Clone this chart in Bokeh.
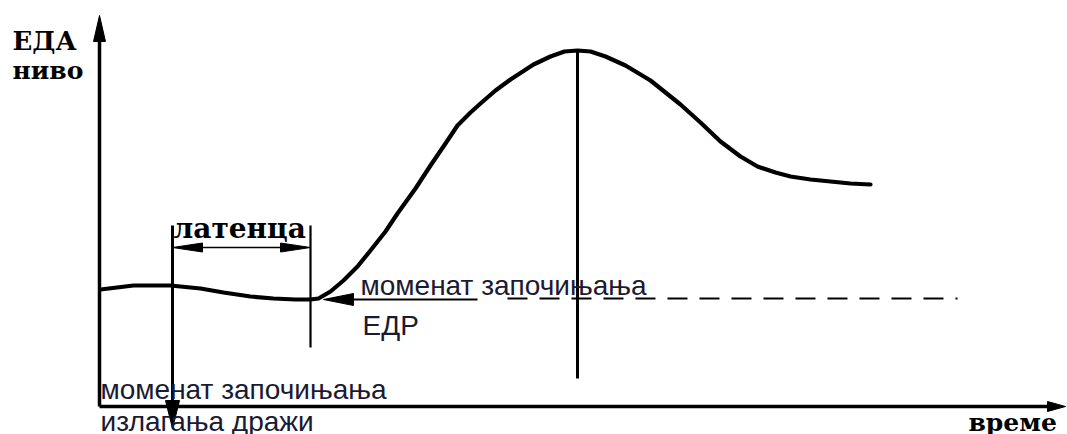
from bokeh.plotting import figure
from bokeh.models import Range1d
from bokeh.embed import file_html
from bokeh.resources import INLINE
from bokeh.core.properties import value

# ---- data (diagram coordinates: x grows right, y grows downward) ----
curve_x = [100, 133, 170, 200, 223, 250, 273, 295, 310, 318, 330, 343, 357, 370, 385,
           397, 415, 430, 445, 457, 470, 480, 495, 510, 533, 550, 564, 577, 590, 605,
           625, 650, 680, 700, 720, 740, 757, 775, 790, 810, 830, 850, 870]
curve_y = [289, 285, 285, 288, 292, 296, 298, 299, 299, 298, 291, 280, 266, 250, 231,
           213, 188, 165, 143, 125, 112, 103, 90, 79, 64, 56, 51, 50, 51, 56,
           65, 80, 104, 122, 141, 156, 166, 172, 176, 179, 181, 183, 184]

origin_x, origin_y = 99, 406
y_axis_tip = 15
x_axis_tip = 1065
stim_x = 172
onset_x = 310
latency_top = 225
latency_y = 247
stim_tip_y = 428
onset_line_bottom = 347
peak_x, peak_y = 577, 50
peak_line_bottom = 378
edr_y = 299
edr_tip_x = 323
solid_end_x = 477
dash_end_x = 957

serif_labels = ["ЕДА", "ниво", "латенца", "време"]
serif_x = [12, 12, 173, 968]
serif_y = [40, 70, 228, 422]
serif_size = ["26px", "25px", "28px", "25px"]

sans_labels = ["моменат започињања", "ЕДР", "моменат започињања", "излагања дражи"]
sans_x = [360, 362, 100, 100]
sans_y = [285, 325, 389, 421]

W, H = 1067, 434
p = figure(width=W, height=H, x_range=Range1d(0, W), y_range=Range1d(H, 0),
           output_backend="svg", toolbar_location=None, min_border=0,
           x_axis_type=None, y_axis_type=None)
p.grid.visible = False
p.outline_line_color = None
p.background_fill_color = "white"
p.border_fill_color = "white"


def tri(tip_x, tip_y, dx, dy, length, half):
    # triangle pointing toward tip along unit direction (dx, dy)
    bx, by = tip_x - dx * length, tip_y - dy * length
    px, py = -dy * half, dx * half
    return [tip_x, bx + px, bx - px], [tip_y, by + py, by - py]


# axes
p.line([origin_x, origin_x], [origin_y, y_axis_tip + 10], line_color="black", line_width=3.5)
p.line([origin_x, x_axis_tip - 10], [origin_y, origin_y], line_color="black", line_width=3.5)

# main EDA curve
p.line(curve_x, curve_y, line_color="black", line_width=4.2, line_join="round", line_cap="round")

# stimulus line (with arrow down)
p.line([stim_x, stim_x], [latency_top, stim_tip_y - 10], line_color="black", line_width=3)
# onset line
p.line([onset_x, onset_x], [latency_top, onset_line_bottom], line_color="black", line_width=2.2)
# peak line
p.line([peak_x, peak_x], [peak_y, peak_line_bottom], line_color="black", line_width=3)

# latency double arrow shaft
p.line([stim_x + 20, onset_x - 20], [latency_y, latency_y], line_color="black", line_width=1.6)
# EDR onset arrow shaft (solid) and dashed continuation
p.line([edr_tip_x + 20, solid_end_x], [edr_y, edr_y], line_color="black", line_width=2)
p.line([solid_end_x + 30, dash_end_x], [edr_y - 1, edr_y - 1], line_color="black",
       line_width=2, line_dash="20 12")

heads = [
    tri(origin_x, y_axis_tip, 0, -1, 26, 6),
    tri(x_axis_tip, origin_y, 1, 0, 18, 5),
    tri(stim_x, stim_tip_y, 0, 1, 28, 7),
    tri(stim_x, latency_y, -1, 0, 30, 4.5),
    tri(onset_x, latency_y, 1, 0, 30, 4.5),
    tri(edr_tip_x, edr_y, -1, 0, 30, 6),
]
p.patches([h[0] for h in heads], [h[1] for h in heads], fill_color="black", line_color="black")

# texts
for t, x, y, s in zip(serif_labels, serif_x, serif_y, serif_size):
    p.text(x=[x], y=[y], text=[t], text_font=value("DejaVu Serif"), text_font_style="bold",
           text_font_size=s, text_baseline="alphabetic", text_align="left", text_color="black")

p.text(x=sans_x, y=sans_y, text=sans_labels, text_font=value("Liberation Sans"),
       text_font_size="28px", text_baseline="alphabetic", text_align="left",
       text_color="#1a1a33")

open("out.html", "w").write(file_html(p, INLINE))
